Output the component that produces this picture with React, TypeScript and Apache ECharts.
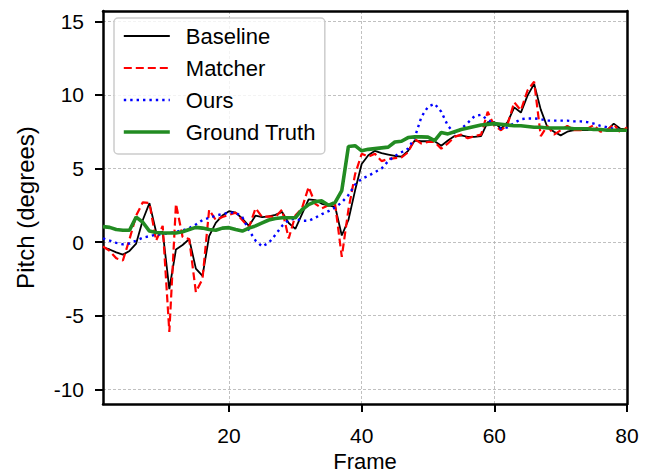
import React, { useEffect, useRef } from "react";
import * as echarts from "echarts";

const frames: number[] = Array.from({ length: 80 }, (_, i) => i + 1);

const baseline: number[] = [
  -0.35, -0.5, -0.7, -0.85, -0.6, -0.1, 1.5, 2.65, 0.7, 0.7,
  -3.2, -0.5, -0.2, 0.2, -1.8, -2.3, 0.4, 1.3, 1.8, 2.1,
  2.0, 1.6, 1.1, 1.8, 1.7, 1.75, 1.85, 2.05, 1.3, 0.9,
  1.9, 2.9, 2.85, 2.6, 2.5, 2.4, 0.45, 1.5, 3.5, 5.3,
  5.9, 6.2, 6.05, 5.95, 5.85, 5.8, 6.2, 6.9, 6.85, 6.85,
  6.85, 6.55, 6.9, 7.2, 7.25, 7.15, 7.15, 7.2, 8.15, 8.15,
  7.7, 8.15, 9.15, 8.8, 9.95, 10.75, 9.0, 7.8, 7.5, 7.25,
  7.5, 7.6, 7.6, 7.6, 7.7, 7.65, 7.6, 8.05, 7.7, 7.65,
];

const matcher: number[] = [
  -0.3, -0.6, -1.1, -1.25, 0.2, 1.8, 2.7, 2.65, 0.1, 1.1,
  -6.1, 2.6, 0.35, 0.2, -3.4, -2.5, 2.2, 1.5, 1.7, 1.85,
  2.0, 1.5, 1.0, 2.3, 1.7, 1.75, 1.7, 2.2, 0.25, 1.8,
  2.3, 3.75, 2.6, 2.3, 2.5, 2.55, -1.0, 2.2, 4.6, 6.0,
  5.8, 6.0, 5.5, 5.65, 5.7, 5.75, 6.1, 7.0, 6.7, 6.8,
  6.8, 6.35, 6.7, 7.15, 7.3, 7.05, 7.2, 7.3, 8.85, 7.9,
  7.6, 8.0, 9.5, 8.95, 10.3, 10.9, 7.2, 7.9, 7.3, 7.6,
  7.9, 7.6, 7.6, 7.7, 7.95, 7.5, 7.6, 8.0, 7.45, 7.8,
];

const ours: number[] = [
  0.25, 0.1, -0.05, -0.15, -0.1, 0.1, 0.3, 0.4, 0.5, 0.55,
  0.6, 0.7, 0.8, 0.95, 1.2, 1.5, 1.65, 1.8, 1.9, 2.0,
  2.0, 1.7, 0.8, 0.1, -0.3, -0.05, 0.5, 1.1, 1.5, 1.6,
  1.45, 1.45, 1.65, 1.9, 2.1, 2.35, 2.7, 3.2, 3.9, 4.3,
  4.5, 4.75, 5.0, 5.5, 5.85, 6.1, 6.35, 7.1, 8.5, 9.2,
  9.4, 8.85, 7.9, 7.4, 7.7, 8.1, 8.55, 8.65, 8.3, 8.05,
  7.7, 7.8, 8.1, 8.35, 8.4, 8.4, 8.35, 8.25, 8.25, 8.25,
  8.25, 8.2, 8.2, 8.15, 8.05, 7.9, 7.8, 7.7, 7.6, 7.6,
];

const groundTruth: number[] = [
  1.05, 1.0, 0.85, 0.8, 0.8, 1.7, 1.35, 0.75, 0.65, 0.62,
  0.62, 0.62, 0.7, 0.85, 1.0, 0.95, 0.85, 0.8, 0.95, 0.98,
  0.85, 0.75, 0.95, 1.1, 1.3, 1.5, 1.6, 1.65, 1.65, 1.65,
  2.2, 2.55, 2.75, 2.8, 2.5, 2.7, 3.5, 6.5, 6.55, 6.2,
  6.3, 6.35, 6.4, 6.45, 6.8, 6.85, 7.1, 7.15, 7.15, 7.13,
  6.9, 7.45, 7.35, 7.5, 7.65, 7.75, 7.85, 7.95, 8.0, 8.05,
  8.0, 7.95, 7.9, 7.9, 7.85, 7.8, 7.8, 7.75, 7.75, 7.75,
  7.75, 7.7, 7.7, 7.7, 7.65, 7.65, 7.6, 7.6, 7.6, 7.6,
];

const xTicks: number[] = [20, 40, 60, 80];
const yTicks: number[] = [-10, -5, 0, 5, 10, 15];

const seriesNames: string[] = ["Baseline", "Matcher", "Ours", "Ground Truth"];

const FONT = "Liberation Sans, Arial, sans-serif";
const X_MIN = 1;
const X_MAX = 80;
const Y_MIN = -11;
const Y_MAX = 15.7;

const pairs = (vals: number[]) => frames.map((f, i) => [f, vals[i]]);

export default function App() {
  const ref = useRef<HTMLDivElement>(null);
  useEffect(() => {
    document.body.style.margin = "0";
    if (!ref.current) return;
    const chart = echarts.init(ref.current, undefined, { renderer: "svg" });
    const gridLine = { show: true, lineStyle: { color: "#b0b0b0", width: 0.8, type: [3, 2] as any } };
    const spine = { show: true, onZero: false, lineStyle: { color: "#000000", width: 2.5 } };
    const frameAxis = {
      type: "value",
      axisLine: spine,
      axisTick: { show: false },
      axisLabel: { show: false },
      splitLine: { show: false },
    };
    chart.setOption({
      animation: false,
      backgroundColor: "#ffffff",
      textStyle: { fontFamily: FONT },
      grid: {
        left: 103,
        right: 28,
        top: 11,
        bottom: 69,
        show: false,
        outerBoundsMode: "none",
      },
      legend: {
        data: seriesNames,
        orient: "vertical",
        left: 114,
        top: 18,
        itemWidth: 46,
        itemHeight: 14,
        itemGap: 10,
        padding: [7, 9, 11, 8],
        backgroundColor: "rgba(255,255,255,0.8)",
        borderColor: "#cccccc",
        borderWidth: 1.5,
        borderRadius: 4,
        itemStyle: { opacity: 0 },
        lineStyle: { width: "inherit" },
        textStyle: { fontFamily: FONT, fontSize: 22, color: "#000000", padding: [0, 0, 0, 11] },
      },
      xAxis: [
        {
          type: "value",
          min: X_MIN,
          max: X_MAX,
          name: "Frame",
          nameLocation: "middle",
          nameGap: 41,
          nameTextStyle: { fontFamily: FONT, fontSize: 22, color: "#000000" },
          axisLine: spine,
          axisTick: { show: true, inside: false, length: 8, lineStyle: { color: "#000000", width: 2 }, customValues: xTicks },
          axisLabel: { show: true, margin: 21, fontSize: 21, color: "#000000", fontFamily: FONT, customValues: xTicks },
          splitLine: gridLine,
        },
        { ...frameAxis, position: "top", min: X_MIN, max: X_MAX },
      ],
      yAxis: [
        {
          type: "value",
          min: Y_MIN,
          max: Y_MAX,
          name: "Pitch (degrees)",
          nameLocation: "middle",
          nameGap: 66,
          nameRotate: 90,
          nameTextStyle: { fontFamily: FONT, fontSize: 24, color: "#000000" },
          axisLine: spine,
          axisTick: { show: true, inside: false, length: 8, lineStyle: { color: "#000000", width: 2 }, customValues: yTicks },
          axisLabel: { show: true, margin: 19, fontSize: 21, color: "#000000", fontFamily: FONT, customValues: yTicks },
          splitLine: gridLine,
        },
        { ...frameAxis, position: "right", min: Y_MIN, max: Y_MAX },
      ],
      series: [
        {
          name: "Baseline",
          type: "line",
          data: pairs(baseline),
          symbol: "none",
          color: "#000000",
          lineStyle: { color: "#000000", width: 1.8, type: "solid" },
          z: 2,
        },
        {
          name: "Matcher",
          type: "line",
          data: pairs(matcher),
          symbol: "none",
          color: "#ff0000",
          lineStyle: { color: "#ff0000", width: 2.2, type: [8, 4] },
          z: 3,
        },
        {
          name: "Ours",
          type: "line",
          data: pairs(ours),
          symbol: "none",
          color: "#0000ff",
          lineStyle: { color: "#0000ff", width: 2.4, type: [2.4, 4], cap: "butt" },
          z: 4,
        },
        {
          name: "Ground Truth",
          type: "line",
          data: pairs(groundTruth),
          symbol: "none",
          color: "#228b22",
          lineStyle: { color: "#228b22", width: 3.6, type: "solid" },
          z: 5,
        },
      ],
    });
    return () => chart.dispose();
  }, []);
  return <div ref={ref} style={{ width: 655, height: 473 }} />;
}
